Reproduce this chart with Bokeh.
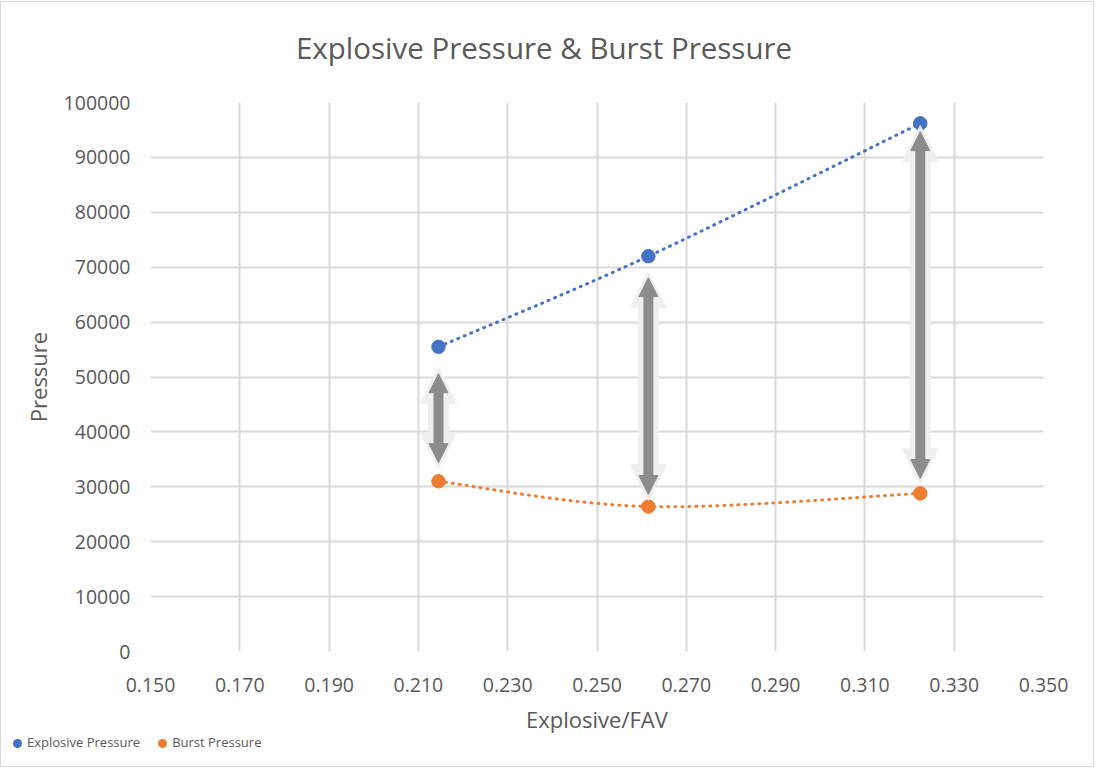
import numpy as np
from bokeh.plotting import figure
from bokeh.layouts import column
from bokeh.models import (Range1d, FixedTicker, NumeralTickFormatter, Arrow, NormalHead,
                          ColumnDataSource, Div)
from bokeh.embed import file_html
from bokeh.resources import INLINE

# ---- data ----
title_text = "Explosive Pressure &amp; Burst Pressure"
ratio = [0.2145, 0.2615, 0.3224]
explosive_pressure = [55500, 72000, 96200]
burst_pressure = [31000, 26400, 28800]
arrow_top = [50600, 68100, 94700]
arrow_bottom = [34400, 28600, 31500]
x_ticks = [0.15, 0.17, 0.19, 0.21, 0.23, 0.25, 0.27, 0.29, 0.31, 0.33, 0.35]
y_ticks = [0, 10000, 20000, 30000, 40000, 50000, 60000, 70000, 80000, 90000, 100000]
series_names = ["Explosive Pressure", "Burst Pressure"]

BLUE = "#4472C4"
ORANGE = "#ED7D31"
TXT = "#595959"
GRID = "#d9d9d9"
FONT = "Open Sans"


def smooth(xs, ys, n=40):
    """Excel-style smoothed line (Catmull-Rom as cubic Bezier)."""
    pts = list(zip(xs, ys))
    ox, oy = [], []
    for i in range(len(pts) - 1):
        p0 = pts[i - 1] if i > 0 else pts[i]
        p1 = pts[i]
        p2 = pts[i + 1]
        p3 = pts[i + 2] if i + 2 < len(pts) else pts[i + 1]
        c1 = (p1[0] + (p2[0] - p0[0]) / 6, p1[1] + (p2[1] - p0[1]) / 6)
        c2 = (p2[0] - (p3[0] - p1[0]) / 6, p2[1] - (p3[1] - p1[1]) / 6)
        t = np.linspace(0, 1, n)
        bx = (1 - t) ** 3 * p1[0] + 3 * (1 - t) ** 2 * t * c1[0] + 3 * (1 - t) * t ** 2 * c2[0] + t ** 3 * p2[0]
        by = (1 - t) ** 3 * p1[1] + 3 * (1 - t) ** 2 * t * c1[1] + 3 * (1 - t) * t ** 2 * c2[1] + t ** 3 * p2[1]
        ox.extend(bx.tolist())
        oy.extend(by.tolist())
    return ox, oy


# ---- title ----
title_div = Div(
    text=('<div style="width:1088px;text-align:center;font-family:\'Open Sans\';'
          'font-size:29.5px;color:%s;line-height:40px;padding-top:28px;white-space:nowrap">%s</div>'
          % (TXT, title_text)),
    width=1096, height=70, margin=(0, 0, 0, 0))

# ---- main chart ----
p = figure(output_backend="svg", toolbar_location=None,
           frame_width=893, frame_height=549,
           min_border_left=150, min_border_right=53, min_border_top=32, min_border_bottom=86,
           x_range=Range1d(0.15, 0.35), y_range=Range1d(0, 100000))
p.margin = (0, 0, 0, 0)
p.outline_line_color = None
p.border_fill_color = "white"
p.background_fill_color = "white"

for ax in (p.xaxis[0], p.yaxis[0]):
    ax.axis_line_color = None
    ax.major_tick_line_color = None
    ax.minor_tick_line_color = None
    ax.major_label_text_font = FONT
    ax.major_label_text_font_size = "19.5px"
    ax.major_label_text_color = TXT
    ax.axis_label_text_font = FONT
    ax.axis_label_text_font_size = "22px"
    ax.axis_label_text_font_style = "normal"
    ax.axis_label_text_color = TXT

p.xaxis.ticker = FixedTicker(ticks=x_ticks)
p.yaxis.ticker = FixedTicker(ticks=y_ticks)
p.xaxis.formatter = NumeralTickFormatter(format="0.000")
p.yaxis.formatter = NumeralTickFormatter(format="0")
p.xaxis.axis_label = "Explosive/FAV"
p.yaxis.axis_label = "Pressure"
p.xaxis.major_label_standoff = 20
p.yaxis.major_label_standoff = 14
p.xaxis.axis_label_standoff = 9
p.yaxis.axis_label_standoff = 8

p.xgrid.grid_line_color = GRID
p.ygrid.grid_line_color = GRID
p.xgrid.grid_line_width = 2
p.ygrid.grid_line_width = 2

ex, ey = smooth(ratio, explosive_pressure)
bx, by = smooth(ratio, burst_pressure)
p.line(ex, ey, line_color=BLUE, line_width=3, line_dash="1 6", line_cap="round")
p.line(bx, by, line_color=ORANGE, line_width=3, line_dash="1 6", line_cap="round")

# arrows (light glow + dark core)
px_y = 100000 / 549.0
for i in range(len(ratio)):
    glow = Arrow(x_start=ratio[i], y_start=arrow_bottom[i] - 6 * px_y,
                 x_end=ratio[i], y_end=arrow_top[i] + 6 * px_y,
                 line_color="#efefef", line_width=21,
                 start=NormalHead(size=36, fill_color="#efefef", line_color="#efefef", line_width=1),
                 end=NormalHead(size=36, fill_color="#efefef", line_color="#efefef", line_width=1))
    dark = Arrow(x_start=ratio[i], y_start=arrow_bottom[i],
                 x_end=ratio[i], y_end=arrow_top[i],
                 line_color="#8c8c8c", line_width=10,
                 start=NormalHead(size=19, fill_color="#8c8c8c", line_color="#8c8c8c", line_width=1),
                 end=NormalHead(size=19, fill_color="#8c8c8c", line_color="#8c8c8c", line_width=1))
    p.add_layout(glow)
    p.add_layout(dark)

src_e = ColumnDataSource(dict(x=ratio, y=explosive_pressure))
src_b = ColumnDataSource(dict(x=ratio, y=burst_pressure))
p.scatter("x", "y", source=src_e, size=13.5, fill_color=BLUE, line_color=BLUE)
p.scatter("x", "y", source=src_b, size=13.5, fill_color=ORANGE, line_color=ORANGE)

# ---- legend strip ----
dot = ('<span style="display:inline-block;width:9px;height:9px;border-radius:50%%;'
       'background:%s;margin:0 5px 0 %dpx;vertical-align:middle"></span>')
legend_html = ('<div style="font-family:\'Open Sans\';font-size:13px;color:%s;line-height:18px;'
               'padding-left:13px;white-space:nowrap">' % TXT
               + dot % (BLUE, 0) + series_names[0]
               + dot % (ORANGE, 18) + series_names[1] + '</div>')
legend_div = Div(text=legend_html, width=1096, height=26, margin=(-4, 0, 0, 0))

layout = column(title_div, p, legend_div, spacing=0)

html = file_html(layout, INLINE)
html = html.replace(
    "<body>",
    "<body style=\"margin:0\"><div style=\"position:absolute;left:0;top:1px;width:1092px;"
    "height:764px;border:1px solid #d9d9d9;pointer-events:none;z-index:10\"></div>")
open("out.html", "w").write(html)
